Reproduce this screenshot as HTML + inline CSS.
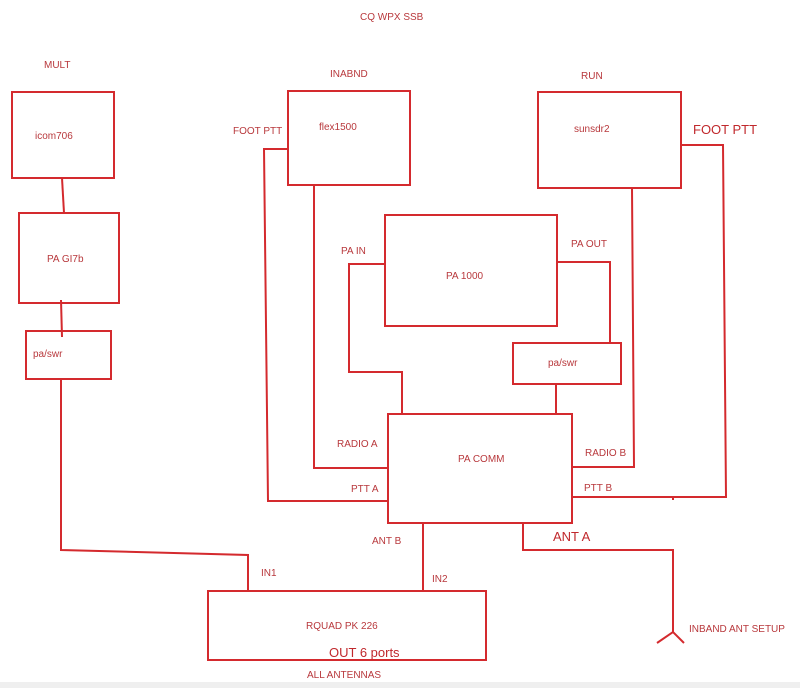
<!DOCTYPE html>
<html><head><meta charset="utf-8"><style>
html,body{margin:0;padding:0;background:#fff;}
svg{display:block;}
text{font-family:"Liberation Sans",sans-serif;fill:#b8383c;font-size:10px;}
.big{font-size:13px;fill:#c0282c;}
</style></head><body>
<svg width="800" height="688" viewBox="0 0 800 688" xmlns="http://www.w3.org/2000/svg">
<rect x="0" y="682" width="800" height="6" fill="#efefef"/>
<g fill="none" stroke="#d42a2e" stroke-width="2">
<rect x="12" y="92" width="102" height="86"/>
<rect x="19" y="213" width="100" height="90"/>
<rect x="26" y="331" width="85" height="48"/>
<rect x="288" y="91" width="122" height="94"/>
<rect x="538" y="92" width="143" height="96"/>
<rect x="385" y="215" width="172" height="111"/>
<rect x="513" y="343" width="108" height="41"/>
<rect x="388" y="414" width="184" height="109"/>
<rect x="208" y="591" width="278" height="69"/>
<polyline points="62,178 64,213"/>
<polyline points="61,300 62,337"/>
<polyline points="61,379 61,550 248,555 248,591"/>
<polyline points="288,149 264,149 268,501 388,501"/>
<polyline points="314,185 314,468 388,468"/>
<polyline points="385,264 349,264 349,372 402,372 402,414"/>
<polyline points="557,262 610,262 610,343"/>
<polyline points="556,384 556,414"/>
<polyline points="632,188 634,467 572,467"/>
<polyline points="681,145 723,145 726,497 572,497"/>
<polyline points="673,497 673,500"/>
<polyline points="423,523 423,591"/>
<polyline points="523,523 523,550 673,550 673,633"/>
<polyline points="657,643 673,632 684,643"/>
</g>
<text x="360" y="20">CQ WPX SSB</text>
<text x="44" y="68">MULT</text>
<text x="330" y="77">INABND</text>
<text x="581" y="79">RUN</text>
<text x="233" y="134">FOOT PTT</text>
<text class="big" x="693" y="134">FOOT PTT</text>
<text x="35" y="139">icom706</text>
<text x="319" y="130">flex1500</text>
<text x="574" y="132">sunsdr2</text>
<text x="47" y="262">PA GI7b</text>
<text x="33" y="357">pa/swr</text>
<text x="341" y="254">PA IN</text>
<text x="571" y="247">PA OUT</text>
<text x="446" y="279">PA 1000</text>
<text x="548" y="366">pa/swr</text>
<text x="337" y="447">RADIO A</text>
<text x="458" y="462">PA COMM</text>
<text x="585" y="456">RADIO B</text>
<text x="351" y="492">PTT A</text>
<text x="584" y="491">PTT B</text>
<text x="372" y="544">ANT B</text>
<text class="big" x="553" y="541">ANT A</text>
<text x="261" y="576">IN1</text>
<text x="432" y="582">IN2</text>
<text x="306" y="629">RQUAD PK 226</text>
<text class="big" x="329" y="657">OUT 6 ports</text>
<text x="307" y="678">ALL ANTENNAS</text>
<text x="689" y="632">INBAND ANT SETUP</text>
</svg>
</body></html>
